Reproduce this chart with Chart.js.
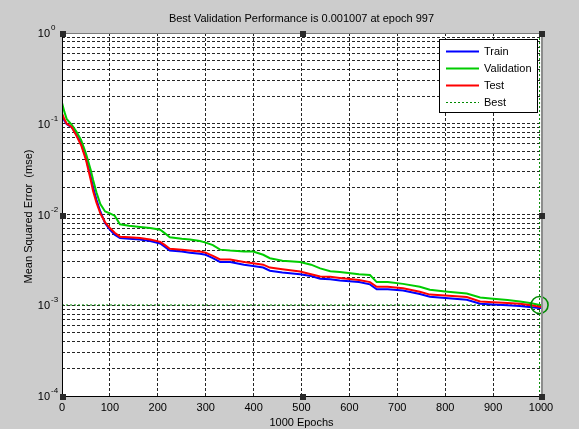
<!DOCTYPE html>
<html><head><meta charset="utf-8">
<script src="https://cdn.jsdelivr.net/npm/chart.js@4"></script>
<style>html,body{margin:0;padding:0;background:#cccccc;overflow:hidden;} canvas{display:block;}</style>
</head><body>
<canvas id="c" width="579" height="429"></canvas>
<script>
// ---- data ----
const epochs = [0,5,10,20,30,40,50,60,65,72,80,90,100,110,121,140,163,184,205,215,225,250,267,288,300,315,330,351,380,399,420,434,460,497,520,539,560,580,620,643,657,680,712,747,768,800,845,873,900,930,956,980,997,1000];
const trainMSE = [0.125,0.108,0.099,0.092,0.076,0.061,0.042,0.026,0.020,0.0145, 0.0108,0.0080,0.0068,0.0060,0.0055,0.0054,0.0053,0.0051,0.0048,0.0044, 0.0040,0.0039,0.0038,0.0037,0.0036,0.0033,0.0030,0.0030,0.0028,0.0027, 0.0026,0.0024,0.0023,0.0022,0.0021,0.00196,0.00193,0.00187,0.0018,0.0017, 0.0015,0.0015,0.00145,0.00133,0.00124,0.0012,0.00115,0.00104,0.00102,0.0010, 0.00098,0.00095,0.00093,0.00093];
const validationMSE = [0.17,0.135,0.112,0.098,0.082,0.066,0.047,0.031,0.024,0.0175, 0.0130,0.0108,0.0103,0.0097,0.0078,0.0075,0.0073,0.0071,0.0068,0.0062, 0.0056,0.0054,0.0053,0.0051,0.0049,0.0046,0.0041,0.0040,0.0039,0.0039, 0.0036,0.0033,0.0031,0.0030,0.0028,0.00255,0.00237,0.00232,0.0022,0.00215, 0.0018,0.0018,0.00172,0.0016,0.00148,0.00142,0.00135,0.00122,0.00118,0.00114, 0.0011,0.00105,0.001007,0.001007];
const testMSE = [0.13,0.112,0.100,0.092,0.074,0.058,0.040,0.024,0.018,0.0135, 0.0103,0.0082,0.0071,0.0063,0.0057,0.0056,0.0055,0.0053,0.0050,0.0046, 0.0042,0.0041,0.0040,0.0039,0.0038,0.0035,0.0032,0.0032,0.0030,0.0029, 0.0028,0.0026,0.0025,0.00235,0.0022,0.00207,0.00206,0.0020,0.0019,0.0018, 0.0016,0.0016,0.00154,0.00141,0.00131,0.00128,0.00123,0.0011,0.00108,0.00106, 0.00104,0.0010,0.00096,0.00096];
const bestEpoch = 997;
const bestPerf = 0.001007;
const xTickValues = [0,100,200,300,400,500,600,700,800,900,1000];
const yDecadeExponents = [-4,-3,-2,-1,0];
const seriesLabels = ['Train','Validation','Test','Best'];
const titleText = 'Best Validation Performance is 0.001007 at epoch 997';
const xAxisLabel = '1000 Epochs';
const yAxisLabel = 'Mean Squared Error  (mse)';

// ---- derived helpers ----
const yTickValues = [];
for (let i = 0; i < yDecadeExponents.length - 1; i++) {
  for (let m = 1; m <= 9; m++) yTickValues.push(m * Math.pow(10, yDecadeExponents[i]));
}
yTickValues.push(Math.pow(10, yDecadeExponents[yDecadeExponents.length - 1]));
const pts = arr => arr.map((v, i) => ({x: epochs[i], y: v}));

const FONT = '"Liberation Sans", Arial, Helvetica, sans-serif';
const COLORS = {train: '#0000ff', validation: '#00cc00', test: '#ff0000', best: '#008a00'};

const matlabPlugin = {
  id: 'matlab',
  beforeDraw(chart) {
    const {ctx, chartArea: a} = chart;
    ctx.save();
    ctx.fillStyle = '#cccccc';
    ctx.fillRect(0, 0, chart.width, chart.height);
    ctx.fillStyle = '#ffffff';
    ctx.fillRect(a.left, a.top, a.right - a.left, a.bottom - a.top);
    ctx.restore();
  },
  afterDraw(chart) {
    const {ctx, chartArea: a, scales: {x, y}} = chart;
    ctx.save();
    // axes box
    ctx.lineWidth = 1;
    ctx.strokeStyle = '#7a7a7a';
    ctx.beginPath(); ctx.moveTo(a.left, a.top + 0.5); ctx.lineTo(a.right, a.top + 0.5); ctx.stroke();
    ctx.lineWidth = 2;
    ctx.strokeStyle = '#8c8c8c';
    ctx.beginPath(); ctx.moveTo(a.right + 1, a.top); ctx.lineTo(a.right + 1, a.bottom); ctx.stroke();
    ctx.lineWidth = 1;
    ctx.strokeStyle = '#000';
    ctx.beginPath();
    ctx.moveTo(a.left + 0.5, a.top); ctx.lineTo(a.left + 0.5, a.bottom + 0.5); ctx.lineTo(a.right + 2, a.bottom + 0.5);
    ctx.stroke();

    // selection handles
    ctx.fillStyle = '#2a2a2a';
    const mx = Math.round((a.left + a.right) / 2), my = Math.round((a.top + a.bottom) / 2);
    [[a.left, a.top],[mx, a.top],[a.right, a.top],[a.left, my],[a.right, my],[a.left, a.bottom],[mx, a.bottom],[a.right, a.bottom]]
      .forEach(([hx, hy]) => ctx.fillRect(hx - 2, hy - 2, 6, 6));

    // tick labels
    ctx.fillStyle = '#000';
    ctx.font = '11px ' + FONT;
    ctx.textAlign = 'center';
    ctx.textBaseline = 'middle';
    x.ticks.forEach(t => {
      ctx.fillText(String(t.value), x.getPixelForValue(t.value), a.bottom + 12);
    });
    y.ticks.forEach(t => {
      const e = Math.log10(t.value);
      if (Math.abs(e - Math.round(e)) > 1e-9) return;
      const py = y.getPixelForValue(t.value);
      ctx.font = '11px ' + FONT;
      ctx.textAlign = 'right';
      ctx.fillText('10', a.left - 12, py + 1);
      ctx.font = '8px ' + FONT;
      ctx.textAlign = 'left';
      ctx.fillText(String(Math.round(e)), a.left - 11, py - 5);
    });

    // title and axis labels
    ctx.font = '11px ' + FONT;
    ctx.textAlign = 'center';
    ctx.fillText(titleText, (a.left + a.right) / 2, 19);
    ctx.fillText(xAxisLabel, (a.left + a.right) / 2, 423);
    ctx.save();
    ctx.translate(29, (a.top + a.bottom) / 2 + 2);
    ctx.rotate(-Math.PI / 2);
    ctx.fillText(yAxisLabel, 0, 0);
    ctx.restore();

    // legend
    const lx = a.right - 102, ly = a.top + 6, lw = 98, lh = 73;
    ctx.fillStyle = '#fff';
    ctx.fillRect(lx, ly, lw, lh);
    ctx.strokeStyle = '#000';
    ctx.lineWidth = 1;
    ctx.strokeRect(lx + 0.5, ly + 0.5, lw, lh);
    const legendColors = [COLORS.train, COLORS.validation, COLORS.test, COLORS.best];
    seriesLabels.forEach((lab, i) => {
      const ry = ly + 12 + i * 17;
      ctx.beginPath();
      ctx.strokeStyle = legendColors[i];
      if (i === 3) { ctx.lineWidth = 1; ctx.setLineDash([2, 2]); }
      else { ctx.lineWidth = 2; ctx.setLineDash([]); }
      ctx.moveTo(lx + 7, ry + 0.5); ctx.lineTo(lx + 40, ry + 0.5);
      ctx.stroke();
      ctx.setLineDash([]);
      ctx.fillStyle = '#000';
      ctx.font = '11px ' + FONT;
      ctx.textAlign = 'left';
      ctx.fillText(lab, lx + 45, ry + 1);
    });
    ctx.restore();
  }
};

new Chart(document.getElementById('c'), {
  type: 'line',
  data: {
    datasets: [
      {label: seriesLabels[0], data: pts(trainMSE), borderColor: COLORS.train, borderWidth: 2, pointRadius: 0, order: 3},
      {label: seriesLabels[1], data: pts(validationMSE), borderColor: COLORS.validation, borderWidth: 2, pointRadius: 0, order: 2},
      {label: seriesLabels[2], data: pts(testMSE), borderColor: COLORS.test, borderWidth: 2, pointRadius: 0, order: 1},
      {label: 'Best level', data: [{x: 0, y: bestPerf}, {x: 1000, y: bestPerf}], borderColor: COLORS.best, borderWidth: 1, borderDash: [2, 2], pointRadius: 0, order: 5},
      {label: 'Best epoch', data: [{x: bestEpoch, y: Math.pow(10, yDecadeExponents[0])}, {x: bestEpoch, y: Math.pow(10, yDecadeExponents[yDecadeExponents.length - 1])}], borderColor: COLORS.best, borderWidth: 1, borderDash: [2, 2], pointRadius: 0, order: 5},
      {label: 'Best point', data: [{x: bestEpoch, y: bestPerf}], showLine: false, pointRadius: 8.5, pointBorderWidth: 1.6, pointBorderColor: COLORS.best, pointBackgroundColor: 'rgba(0,0,0,0)', order: 0, clip: false}
    ]
  },
  options: {
    responsive: false,
    animation: false,
    devicePixelRatio: 1,
    layout: {padding: {left: 62, top: 33, right: 38, bottom: 33}},
    elements: {line: {tension: 0, borderJoinStyle: 'miter'}},
    plugins: {legend: {display: false}, tooltip: {enabled: false}, title: {display: false}},
    scales: {
      x: {
        type: 'linear', min: 0, max: 1000,
        afterBuildTicks: s => { s.ticks = xTickValues.map(v => ({value: v})); },
        ticks: {display: false},
        grid: {color: 'rgba(0,0,0,0.85)', lineWidth: 1, drawTicks: false},
        border: {display: false, dash: [3, 2]}
      },
      y: {
        type: 'logarithmic', min: Math.pow(10, yDecadeExponents[0]), max: Math.pow(10, yDecadeExponents[yDecadeExponents.length - 1]),
        afterBuildTicks: s => { s.ticks = yTickValues.map(v => ({value: v})); },
        ticks: {display: false},
        grid: {color: 'rgba(0,0,0,0.85)', lineWidth: 1, drawTicks: false},
        border: {display: false, dash: [3, 2]}
      }
    }
  },
  plugins: [matlabPlugin]
});
</script>
</body></html>
